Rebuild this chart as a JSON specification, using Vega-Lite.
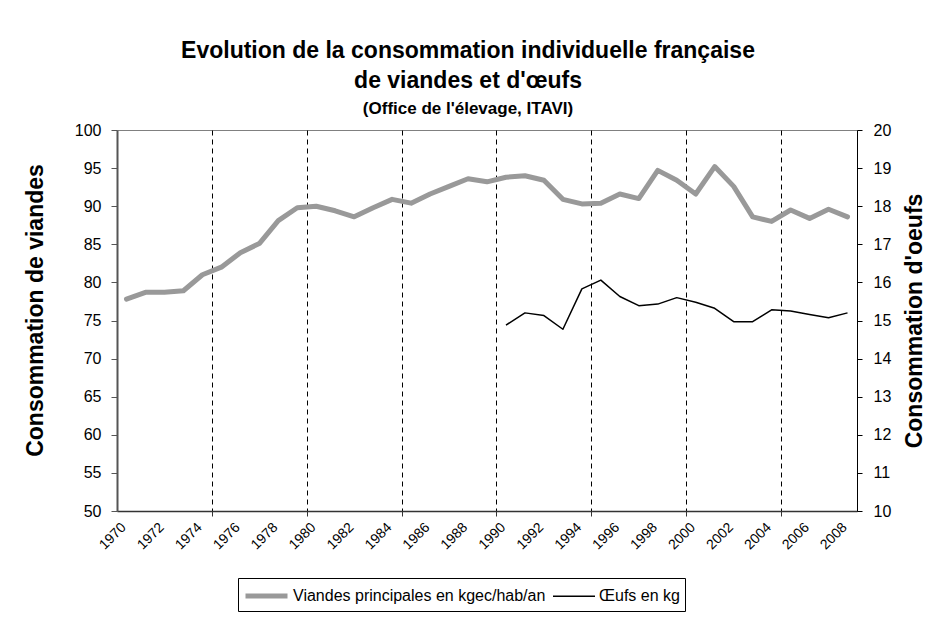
{
  "$schema": "https://vega.github.io/schema/vega-lite/v6.json",
  "width": 740,
  "height": 381,
  "autosize": "none",
  "padding": {"left": 117, "top": 130, "right": 70, "bottom": 114},
  "background": "white",
  "title": {
    "text": ["Evolution de la consommation individuelle française", "de viandes et d'œufs"],
    "subtitle": "(Office de l'élevage, ITAVI)",
    "anchor": "middle",
    "dx": -19,
    "offset": 5,
    "font": "Liberation Sans",
    "fontSize": 23,
    "fontWeight": "bold",
    "lineHeight": 30,
    "color": "black",
    "subtitleFont": "Liberation Sans",
    "subtitleFontSize": 17,
    "subtitleFontWeight": "bold",
    "subtitleColor": "black",
    "subtitlePadding": 8
  },
  "data": {
    "values": [
      {"year": 1970, "series": "Viandes principales en kgec/hab/an", "value": 77.8},
      {"year": 1971, "series": "Viandes principales en kgec/hab/an", "value": 78.7},
      {"year": 1972, "series": "Viandes principales en kgec/hab/an", "value": 78.7},
      {"year": 1973, "series": "Viandes principales en kgec/hab/an", "value": 78.9},
      {"year": 1974, "series": "Viandes principales en kgec/hab/an", "value": 81.0},
      {"year": 1975, "series": "Viandes principales en kgec/hab/an", "value": 82.0},
      {"year": 1976, "series": "Viandes principales en kgec/hab/an", "value": 83.9},
      {"year": 1977, "series": "Viandes principales en kgec/hab/an", "value": 85.1},
      {"year": 1978, "series": "Viandes principales en kgec/hab/an", "value": 88.1},
      {"year": 1979, "series": "Viandes principales en kgec/hab/an", "value": 89.8},
      {"year": 1980, "series": "Viandes principales en kgec/hab/an", "value": 90.0},
      {"year": 1981, "series": "Viandes principales en kgec/hab/an", "value": 89.4},
      {"year": 1982, "series": "Viandes principales en kgec/hab/an", "value": 88.6},
      {"year": 1983, "series": "Viandes principales en kgec/hab/an", "value": 89.8},
      {"year": 1984, "series": "Viandes principales en kgec/hab/an", "value": 90.9},
      {"year": 1985, "series": "Viandes principales en kgec/hab/an", "value": 90.4},
      {"year": 1986, "series": "Viandes principales en kgec/hab/an", "value": 91.6},
      {"year": 1987, "series": "Viandes principales en kgec/hab/an", "value": 92.6},
      {"year": 1988, "series": "Viandes principales en kgec/hab/an", "value": 93.6},
      {"year": 1989, "series": "Viandes principales en kgec/hab/an", "value": 93.2},
      {"year": 1990, "series": "Viandes principales en kgec/hab/an", "value": 93.8},
      {"year": 1991, "series": "Viandes principales en kgec/hab/an", "value": 94.0},
      {"year": 1992, "series": "Viandes principales en kgec/hab/an", "value": 93.4},
      {"year": 1993, "series": "Viandes principales en kgec/hab/an", "value": 90.9},
      {"year": 1994, "series": "Viandes principales en kgec/hab/an", "value": 90.3},
      {"year": 1995, "series": "Viandes principales en kgec/hab/an", "value": 90.4},
      {"year": 1996, "series": "Viandes principales en kgec/hab/an", "value": 91.6},
      {"year": 1997, "series": "Viandes principales en kgec/hab/an", "value": 91.0},
      {"year": 1998, "series": "Viandes principales en kgec/hab/an", "value": 94.7},
      {"year": 1999, "series": "Viandes principales en kgec/hab/an", "value": 93.4},
      {"year": 2000, "series": "Viandes principales en kgec/hab/an", "value": 91.6},
      {"year": 2001, "series": "Viandes principales en kgec/hab/an", "value": 95.2},
      {"year": 2002, "series": "Viandes principales en kgec/hab/an", "value": 92.6},
      {"year": 2003, "series": "Viandes principales en kgec/hab/an", "value": 88.6},
      {"year": 2004, "series": "Viandes principales en kgec/hab/an", "value": 88.0},
      {"year": 2005, "series": "Viandes principales en kgec/hab/an", "value": 89.5},
      {"year": 2006, "series": "Viandes principales en kgec/hab/an", "value": 88.4},
      {"year": 2007, "series": "Viandes principales en kgec/hab/an", "value": 89.6},
      {"year": 2008, "series": "Viandes principales en kgec/hab/an", "value": 88.6},
      {"year": 1990, "series": "Œufs en kg", "value": 14.88},
      {"year": 1991, "series": "Œufs en kg", "value": 15.2},
      {"year": 1992, "series": "Œufs en kg", "value": 15.13},
      {"year": 1993, "series": "Œufs en kg", "value": 14.77},
      {"year": 1994, "series": "Œufs en kg", "value": 15.83},
      {"year": 1995, "series": "Œufs en kg", "value": 16.06},
      {"year": 1996, "series": "Œufs en kg", "value": 15.63},
      {"year": 1997, "series": "Œufs en kg", "value": 15.39},
      {"year": 1998, "series": "Œufs en kg", "value": 15.43},
      {"year": 1999, "series": "Œufs en kg", "value": 15.6},
      {"year": 2000, "series": "Œufs en kg", "value": 15.48},
      {"year": 2001, "series": "Œufs en kg", "value": 15.32},
      {"year": 2002, "series": "Œufs en kg", "value": 14.97},
      {"year": 2003, "series": "Œufs en kg", "value": 14.97},
      {"year": 2004, "series": "Œufs en kg", "value": 15.28},
      {"year": 2005, "series": "Œufs en kg", "value": 15.25},
      {"year": 2006, "series": "Œufs en kg", "value": 15.16},
      {"year": 2007, "series": "Œufs en kg", "value": 15.07},
      {"year": 2008, "series": "Œufs en kg", "value": 15.2}
    ]
  },
  "encoding": {
    "x": {
      "field": "year",
      "type": "quantitative",
      "scale": {"domain": [1969.5, 2008.5], "nice": false, "zero": false},
      "axis": {
        "title": null,
        "values": [1970, 1972, 1974, 1976, 1978, 1980, 1982, 1984, 1986, 1988, 1990, 1992, 1994, 1996, 1998, 2000, 2002, 2004, 2006, 2008, 1974.5, 1979.5, 1984.5, 1989.5, 1994.5, 1999.5, 2004.5],
        "format": "d",
        "labelExpr": "datum.value % 2 == 0 ? datum.label : ''",
        "labelAngle": -45,
        "labelAlign": "right",
        "labelBaseline": "middle",
        "labelPadding": 9,
        "labelOffset": -3,
        "labelOverlap": false,
        "labelBound": false,
        "labelFlush": false,
        "labelFontSize": 14,
        "labelColor": "black",
        "grid": true,
        "gridColor": "black",
        "gridDash": [5, 4],
        "gridWidth": 1,
        "gridOpacity": {"condition": {"test": "datum.value % 1 != 0", "value": 1}, "value": 0},
        "ticks": true,
        "tickSize": 5,
        "tickColor": "#333333",
        "tickOpacity": {"condition": {"test": "datum.value % 1 != 0", "value": 1}, "value": 0},
        "domainColor": "#333333",
        "domainWidth": 1.5
      }
    }
  },
  "layer": [
    {
      "transform": [{"filter": "datum.series == 'Viandes principales en kgec/hab/an'"}],
      "mark": {"type": "line", "strokeJoin": "round", "strokeCap": "round"},
      "encoding": {
        "y": {
          "field": "value",
          "type": "quantitative",
          "scale": {"domain": [50, 100], "nice": false, "zero": false},
          "axis": {
            "title": "Consommation de viandes",
            "orient": "left",
            "values": [50, 55, 60, 65, 70, 75, 80, 85, 90, 95, 100],
            "grid": false,
            "tickSize": 6,
            "tickColor": "#555555",
            "domainColor": "#555555",
            "domainWidth": 2,
            "labelPadding": 10,
            "labelFontSize": 16,
            "labelColor": "black",
            "titleFontSize": 23,
            "titleFontWeight": "bold",
            "titleColor": "black",
            "titlePadding": 27,
            "titleY": 180
          }
        },
        "color": {
          "field": "series",
          "type": "nominal",
          "scale": {"domain": ["Viandes principales en kgec/hab/an", "Œufs en kg"], "range": ["#999999", "#000000"]},
          "legend": {
            "title": null,
            "orient": "none",
            "legendX": 121,
            "legendY": 448,
            "direction": "horizontal",
            "symbolType": "M-1,0H3",
            "symbolSize": 441,
            "labelFontSize": 16,
            "labelLimit": 500,
            "labelColor": "black",
            "labelOffset": 24,
            "columnPadding": 4,
            "padding": 5,
            "strokeColor": "black",
            "fillColor": "white",
            "cornerRadius": 0
          }
        },
        "strokeWidth": {
          "field": "series",
          "type": "nominal",
          "scale": {"domain": ["Viandes principales en kgec/hab/an", "Œufs en kg"], "range": [5, 1.5]},
          "legend": null
        }
      }
    },
    {
      "transform": [{"filter": "datum.series == 'Œufs en kg'"}],
      "mark": {"type": "line", "strokeJoin": "round"},
      "encoding": {
        "y": {
          "field": "value",
          "type": "quantitative",
          "scale": {"domain": [10, 20], "nice": false, "zero": false},
          "axis": {
            "title": "Consommation d'oeufs",
            "orient": "right",
            "values": [10, 11, 12, 13, 14, 15, 16, 17, 18, 19, 20],
            "grid": false,
            "tickSize": 5,
            "tickColor": "black",
            "domainColor": "black",
            "domainWidth": 1,
            "labelPadding": 11,
            "labelFontSize": 16,
            "labelColor": "black",
            "titleFontSize": 23,
            "titleFontWeight": "bold",
            "titleColor": "black",
            "titleAngle": 270,
            "titleBaseline": "alphabetic",
            "titlePadding": 31
          }
        },
        "color": {"field": "series", "type": "nominal"},
        "strokeWidth": {"field": "series", "type": "nominal", "legend": null}
      }
    }
  ],
  "resolve": {"scale": {"y": "independent"}},
  "config": {
    "font": "Liberation Sans",
    "view": {"stroke": "#808080", "strokeWidth": 1},
    "axis": {"labelFont": "Liberation Sans", "titleFont": "Liberation Sans"},
    "legend": {"labelFont": "Liberation Sans"}
  }
}
